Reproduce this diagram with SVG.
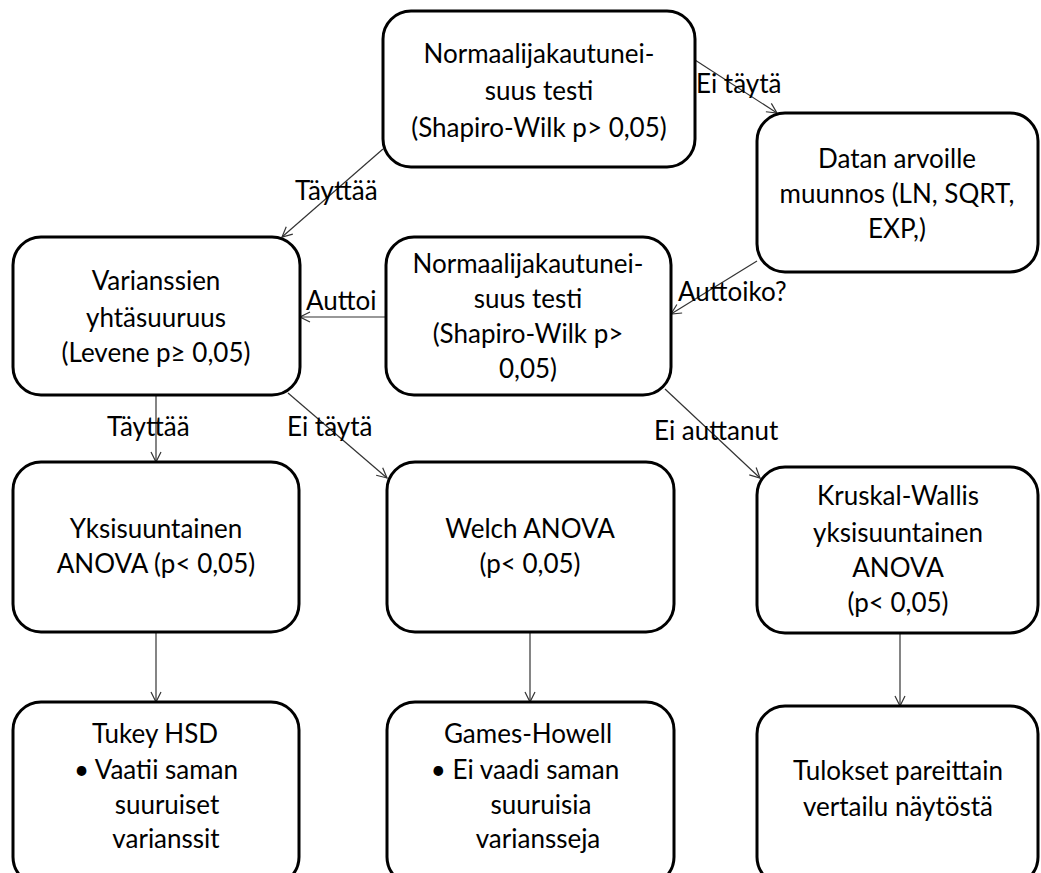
<svg xmlns="http://www.w3.org/2000/svg" width="1041" height="873" viewBox="0 0 1041 873">
<style>
.box{fill:#fff;stroke:#000;stroke-width:3}
.t{font-family:Lato,"Liberation Sans",sans-serif;font-size:26px;fill:#000;text-anchor:middle}
.lbl{font-family:Lato,"Liberation Sans",sans-serif;font-size:26px;fill:#000}
.c{stroke:#333;stroke-width:1.2;fill:none;marker-end:url(#ah)}
</style>
<defs>
<marker id="ah" viewBox="0 0 12 12" refX="11" refY="6" markerWidth="12" markerHeight="12" markerUnits="userSpaceOnUse" orient="auto">
<path d="M1,1 L11,6 L1,11" fill="none" stroke="#333" stroke-width="1.2"/>
</marker>
</defs>
<rect width="1041" height="873" fill="#fff"/>
<g id="connectors">
<line class="c" x1="383" y1="149" x2="282" y2="237"/>
<line class="c" x1="695" y1="60" x2="777" y2="113"/>
<line class="c" x1="757" y1="261" x2="671" y2="314"/>
<line class="c" x1="386" y1="317" x2="300" y2="317"/>
<line class="c" x1="156" y1="395" x2="156" y2="462"/>
<line class="c" x1="288" y1="393" x2="387" y2="478"/>
<line class="c" x1="665" y1="389" x2="760" y2="478"/>
<line class="c" x1="156" y1="632" x2="156" y2="702"/>
<line class="c" x1="530" y1="632" x2="530" y2="702"/>
<line class="c" x1="900" y1="633" x2="900" y2="706"/>
</g>
<g id="labels">
<text class="lbl" x="696" y="93">Ei täytä</text>
<text class="lbl" x="295" y="200">Täyttää</text>
<text class="lbl" x="678" y="301">Auttoiko?</text>
<text class="lbl" x="306" y="310">Auttoi</text>
<text class="lbl" x="107" y="436">Täyttää</text>
<text class="lbl" x="287" y="436">Ei täytä</text>
<text class="lbl" x="654" y="440">Ei auttanut</text>
</g>
<g id="n1">
<rect class="box" x="383" y="11" width="312" height="156" rx="28"/>
<text class="t" x="539" y="63">Normaalijakautunei-</text>
<text class="t" x="539" y="100">suus testi</text>
<text class="t" x="539" y="137">(Shapiro-Wilk p&gt; 0,05)</text>
</g>
<g id="n2">
<rect class="box" x="757" y="113" width="281" height="159" rx="28"/>
<text class="t" x="897" y="168">Datan arvoille</text>
<text class="t" x="897" y="203">muunnos (LN, SQRT,</text>
<text class="t" x="897" y="238">EXP,)</text>
</g>
<g id="n3">
<rect class="box" x="386" y="237" width="285" height="158" rx="28"/>
<text class="t" x="528" y="273">Normaalijakautunei-</text>
<text class="t" x="528" y="308">suus testi</text>
<text class="t" x="528" y="343">(Shapiro-Wilk p&gt;</text>
<text class="t" x="528" y="378">0,05)</text>
</g>
<g id="n4">
<rect class="box" x="13" y="237" width="287" height="158" rx="28"/>
<text class="t" x="156" y="290">Varianssien</text>
<text class="t" x="156" y="327">yhtäsuuruus</text>
<text class="t" x="156" y="362">(Levene p≥ 0,05)</text>
</g>
<g id="n5">
<rect class="box" x="13" y="462" width="286" height="170" rx="28"/>
<text class="t" x="156" y="538">Yksisuuntainen</text>
<text class="t" x="156" y="573">ANOVA (p&lt; 0,05)</text>
</g>
<g id="n6">
<rect class="box" x="387" y="462" width="287" height="170" rx="28"/>
<text class="t" x="530" y="538">Welch ANOVA</text>
<text class="t" x="530" y="573">(p&lt; 0,05)</text>
</g>
<g id="n7">
<rect class="box" x="757" y="467" width="281" height="166" rx="28"/>
<text class="t" x="898" y="505">Kruskal-Wallis</text>
<text class="t" x="898" y="542">yksisuuntainen</text>
<text class="t" x="898" y="577">ANOVA</text>
<text class="t" x="898" y="612">(p&lt; 0,05)</text>
</g>
<g id="n8">
<rect class="box" x="13" y="702" width="286" height="183" rx="28"/>
<text class="t" x="155" y="743">Tukey HSD</text>
<text class="t" x="156" y="779">•  Vaatii saman</text>
<text class="t" x="167" y="814">suuruiset</text>
<text class="t" x="166" y="848">varianssit</text>
</g>
<g id="n9">
<rect class="box" x="387" y="702" width="287" height="183" rx="28"/>
<text class="t" x="528" y="743">Games-Howell</text>
<text class="t" x="525" y="779">•  Ei vaadi saman</text>
<text class="t" x="541" y="814">suuruisia</text>
<text class="t" x="538" y="848">variansseja</text>
</g>
<g id="n10">
<rect class="box" x="757" y="706" width="281" height="179" rx="28"/>
<text class="t" x="898" y="780">Tulokset pareittain</text>
<text class="t" x="898" y="816">vertailu näytöstä</text>
</g>
</svg>
